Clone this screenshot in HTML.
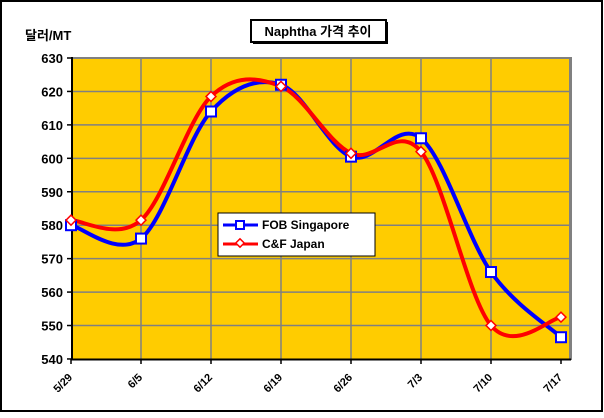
<!DOCTYPE html>
<html><head><meta charset="utf-8"><style>
body{margin:0;background:#fff}
svg text{font-family:"Liberation Sans","Noto Sans CJK KR",sans-serif;font-weight:bold}
</style></head><body>
<svg id="s" width="604" height="413" xmlns="http://www.w3.org/2000/svg">
<rect x="1" y="1" width="601" height="410" fill="#fff" stroke="#000" stroke-width="2"/>
<rect x="72" y="58" width="499" height="301" fill="#FFCC00"/>
<g id="grid" stroke="#808080" stroke-width="1.5"></g>
<rect x="72" y="57" width="499" height="2" fill="#808080"/>
<rect x="569" y="57" width="3" height="303" fill="#808080"/>
<line x1="72" y1="57" x2="72" y2="360" stroke="#000" stroke-width="2"/>
<line x1="71" y1="359.5" x2="571" y2="359.5" stroke="#000" stroke-width="2"/>
<g id="lab" font-size="13"></g>
<text x="25" y="40" font-size="13">달러/MT</text>
<rect x="251" y="20" width="135" height="22" fill="#fff" stroke="#000" stroke-width="2"/>
<rect x="253" y="42" width="135" height="2" fill="#000"/>
<rect x="386" y="22" width="2" height="22" fill="#000"/>
<text x="318" y="36" font-size="13" text-anchor="middle">Naphtha 가격 추이</text>
<g id="series"></g>
<rect x="218" y="213" width="157" height="43" fill="#fff" stroke="#000" stroke-width="1"/>
<line x1="223" y1="225" x2="258" y2="225" stroke="#0000FF" stroke-width="3"/>
<rect x="236" y="221" width="8" height="8" fill="#fff" stroke="#0000FF" stroke-width="2"/>
<text x="262" y="229" font-size="12">FOB Singapore</text>
<line x1="223" y1="244" x2="258" y2="244" stroke="#FF0000" stroke-width="3"/>
<rect x="237" y="240" width="6" height="6" fill="#fff" stroke="#FF0000" stroke-width="1.5" transform="rotate(45 240 243)"/>
<text x="262" y="248" font-size="12">C&amp;F Japan</text>
</svg>
<script>
var NS="http://www.w3.org/2000/svg";
function el(t,a,p){var e=document.createElementNS(NS,t);for(var k in a)e.setAttribute(k,a[k]);p.appendChild(e);return e;}
var g=document.getElementById('grid'),lab=document.getElementById('lab'),ser=document.getElementById('series');
function Y(v){return 58+(630-v)*3.344;}
function X(i){return 71+70*i;}
for(var v=540;v<=630;v+=10){var y=Y(v);if(v>540&&v<630)el('line',{x1:72,y1:y,x2:570,y2:y},g);
 el('line',{x1:67,y1:y,x2:72,y2:y,stroke:'#000','stroke-width':1.5},lab);
 var t=el('text',{x:63,y:y+5,'text-anchor':'end'},lab);t.textContent=v;}
var cats=['5/29','6/5','6/12','6/19','6/26','7/3','7/10','7/17'];
for(var i=0;i<8;i++){var x=X(i);if(i>0&&i<7)el('line',{x1:x,y1:59,x2:x,y2:359},g);
 el('line',{x1:x,y1:359,x2:x,y2:364,stroke:'#000','stroke-width':1.5},lab);
 var t=el('text',{x:x+2,y:378,'text-anchor':'end',transform:'rotate(-45 '+(x+2)+' 378)','font-size':'11'},lab);t.textContent=cats[i];}
function path(vals){var p=vals.map(function(v,i){return [X(i),Y(v)];});var d='M'+p[0][0]+','+p[0][1];
 for(var i=0;i<p.length-1;i++){var p0=p[i-1]||p[i],p1=p[i],p2=p[i+1],p3=p[i+2]||p2;
  d+=' C'+(p1[0]+(p2[0]-p0[0])/6)+','+(p1[1]+(p2[1]-p0[1])/6)+' '+(p2[0]-(p3[0]-p1[0])/6)+','+(p2[1]-(p3[1]-p1[1])/6)+' '+p2[0]+','+p2[1];}
 return {d:d,p:p};}
var fob=path([580,576,614,622,600.5,606,566,546.5]),cf=path([581.5,581.5,618.5,621.5,601.5,602,550,552.5]);
el('path',{d:fob.d,fill:'none',stroke:'#0000FF','stroke-width':4},ser);
el('path',{d:cf.d,fill:'none',stroke:'#FF0000','stroke-width':4},ser);
fob.p.forEach(function(q){el('rect',{x:q[0]-5,y:q[1]-5,width:10,height:10,fill:'#fff',stroke:'#0000FF','stroke-width':2},ser);});
cf.p.forEach(function(q){el('rect',{x:q[0]-3.5,y:q[1]-3.5,width:7,height:7,fill:'#fff',stroke:'#FF0000','stroke-width':1.5,transform:'rotate(45 '+q[0]+' '+q[1]+')'},ser);});
</script>
</body></html>
